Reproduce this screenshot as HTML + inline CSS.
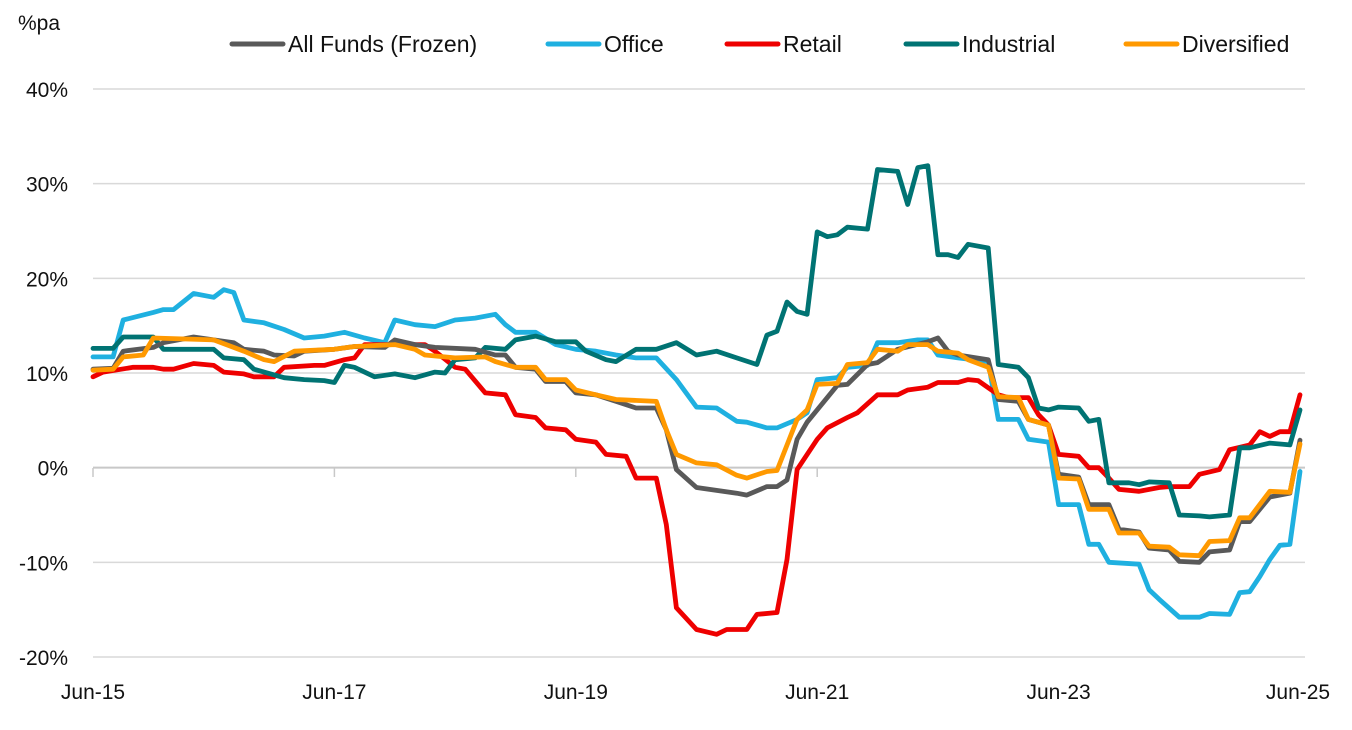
<!DOCTYPE html>
<html><head><meta charset="utf-8"><style>
body{margin:0;background:#fff;}
svg text{font-family:"Liberation Sans",Arial,sans-serif;fill:#111;}
</style></head><body>
<svg id="chart" width="1352" height="725" viewBox="0 0 1352 725" xmlns="http://www.w3.org/2000/svg">
<g id="grid"></g>
<g id="axes"></g>
<g id="series"></g>
<g id="legend"></g>
<text x="18" y="30" font-size="21">%pa</text>
</svg>
<script>
const yTicks = [40,30,20,10,0,-10,-20];
const xTickMonths = [0,24,48,72,96,120];
const xTickLabels = ["Jun-15","Jun-17","Jun-19","Jun-21","Jun-23","Jun-25"];
const seriesNames = ["All Funds (Frozen)","Office","Retail","Industrial","Diversified"];
const seriesColors = ["#595959","#1fb0e0","#ee0000","#007373","#ff9900"];

const officeM = [0,2,3,6,7,8,10,12,13,14,15,17,19,21,23,25,27,29,30,32,34,36,38,40,41,42,44,46,48,50,52,54,56,58,60,62,64,65,67,68,70,71,72,74,75,77,78,80,82,83,84,86,89,90,92,93,95,96,98,99,100,101,104,105,106,108,110,111,113,114,115,116,117,118,119,120];
const officeV = [11.7,11.7,15.6,16.4,16.7,16.7,18.4,18,18.8,18.5,15.6,15.3,14.6,13.7,13.9,14.3,13.7,13.2,15.6,15.1,14.9,15.6,15.8,16.2,15.1,14.3,14.3,13,12.5,12.3,11.9,11.6,11.6,9.3,6.4,6.3,4.9,4.8,4.2,4.2,5.1,5.8,9.3,9.5,10.6,10.8,13.2,13.2,13.5,13.5,11.9,11.6,11.2,5.1,5.1,3,2.7,-3.9,-3.9,-8.1,-8.1,-10,-10.2,-12.9,-13.9,-15.8,-15.8,-15.4,-15.5,-13.2,-13.1,-11.5,-9.7,-8.2,-8.1,-0.4];

const allM = [0,2,3,6,7,10,12,14,15,17,18,20,21,24,26,29,30,32,34,38,40,41,42,44,45,47,48,50,52,54,56,57,58,60,62,64,65,67,68,69,70,71,72,74,75,77,78,80,83,84,85,86,89,90,92,93,95,96,98,99,101,102,104,105,107,108,110,111,113,114,115,117,119,120];
const allV = [10.4,10.5,12.3,12.7,13.2,13.8,13.5,13.2,12.5,12.3,11.9,11.8,12.3,12.5,12.8,12.7,13.5,13,12.7,12.5,11.9,11.9,10.6,10.4,9.1,9.1,7.9,7.7,7,6.3,6.3,4,-0.2,-2.1,-2.4,-2.7,-2.9,-2,-2,-1.3,3,4.8,6.1,8.7,8.8,10.9,11.1,12.5,13.3,13.7,12.3,11.9,11.4,7.2,7,5.1,4.5,-0.7,-1,-3.9,-3.9,-6.5,-6.8,-8.5,-8.7,-9.9,-10,-8.9,-8.7,-5.7,-5.7,-3.1,-2.7,2.9];

const retailM = [0,1,4,6,7,8,10,12,13,15,16,18,19,22,23,25,26,27,31,33,34,36,37,39,41,42,44,45,47,48,50,51,53,54,56,57,58,60,62,63,65,66,68,69,70,72,73,75,76,78,80,81,83,84,86,87,88,90,91,93,94,95,96,98,99,100,101,102,104,106,107,109,110,112,113,115,116,117,118,119,120];
const retailV = [9.6,10.1,10.6,10.6,10.4,10.4,11,10.8,10.1,9.9,9.6,9.6,10.6,10.8,10.8,11.4,11.6,13,13,13,12.3,10.6,10.4,7.9,7.7,5.6,5.3,4.2,4,3,2.7,1.4,1.2,-1.1,-1.1,-6,-14.8,-17.1,-17.6,-17.1,-17.1,-15.5,-15.3,-9.7,-0.2,3,4.2,5.3,5.8,7.7,7.7,8.2,8.5,9,9,9.3,9.2,7.7,7.4,7.4,5.6,4.5,1.4,1.2,0,0,-1.1,-2.3,-2.5,-2.1,-2,-2,-0.7,-0.2,1.9,2.4,3.8,3.3,3.8,3.8,7.7];

const indM = [0,2,3,6,7,12,13,15,16,17,19,21,23,24,25,26,28,30,32,34,35,36,38,39,41,42,44,46,48,49,51,52,54,56,58,60,62,64,66,67,68,69,70,71,72,73,74,75,77,78,80,81,82,83,84,85,86,87,89,90,92,93,94,95,96,98,99,100,101,103,104,105,107,108,110,111,113,114,115,117,119,120];
const indV = [12.6,12.6,13.8,13.8,12.5,12.5,11.6,11.4,10.4,10.1,9.5,9.3,9.2,9,10.8,10.6,9.6,9.9,9.5,10.1,10,11.4,11.6,12.7,12.5,13.5,13.9,13.3,13.3,12.3,11.4,11.2,12.5,12.5,13.2,11.9,12.3,11.6,10.9,14,14.4,17.5,16.5,16.2,24.9,24.4,24.6,25.4,25.2,31.5,31.3,27.8,31.7,31.9,22.5,22.5,22.2,23.6,23.2,10.9,10.6,9.5,6.3,6.1,6.4,6.3,4.9,5.1,-1.6,-1.6,-1.8,-1.5,-1.6,-5,-5.1,-5.2,-5,2.1,2.1,2.6,2.4,6.1];

const divM = [0,2,3,5,6,12,15,17,18,20,24,26,30,32,33,36,39,40,42,44,45,47,48,50,52,56,57,58,60,62,64,65,67,68,70,71,72,74,75,77,78,80,81,83,84,86,87,89,90,92,93,95,96,98,99,101,102,104,105,107,108,110,111,113,114,115,117,119,120];
const divV = [10.3,10.4,11.7,11.9,13.7,13.5,12.3,11.4,11.2,12.3,12.5,12.8,13,12.5,11.9,11.6,11.7,11.2,10.6,10.6,9.3,9.3,8.2,7.7,7.2,7,4,1.4,0.5,0.3,-0.8,-1.1,-0.4,-0.3,5.1,6.1,8.8,8.9,10.9,11.1,12.5,12.3,13,13,12.3,12.1,11.4,10.6,7.5,7.4,5.1,4.5,-1.1,-1.2,-4.4,-4.4,-6.9,-6.9,-8.3,-8.4,-9.2,-9.3,-7.8,-7.7,-5.3,-5.3,-2.5,-2.6,2.5];

const NS="http://www.w3.org/2000/svg";
const X0=93,X1=1300,Y40=89,Ym20=657;
function xs(m){return X0+(X1-X0)*m/120;}
function ys(v){return Y40+(40-v)*(Ym20-Y40)/60;}
function mk(tag,attrs,parent){const e=document.createElementNS(NS,tag);for(const k in attrs)e.setAttribute(k,attrs[k]);parent.appendChild(e);return e;}
const grid=document.getElementById('grid'),axes=document.getElementById('axes'),ser=document.getElementById('series'),leg=document.getElementById('legend');
yTicks.forEach(v=>{
  const l=mk('line',{x1:93,x2:1305,y1:ys(v),y2:ys(v),stroke:v===0?'#c8c8c8':'#d9d9d9','stroke-width':v===0?2:1.5},grid);
  
  
  const t=mk('text',{x:68,y:ys(v)+8,'font-size':21,'text-anchor':'end'},axes);
  t.textContent=v+'%';
  
  
});
xTickMonths.forEach((m,i)=>{
  const l=mk('line',{x1:xs(m),x2:xs(m),y1:468,y2:477,stroke:'#c8c8c8','stroke-width':1.5},axes);
  
  
  const t=mk('text',{x:xs(m)+(i===5?-2:0),y:699,'font-size':21,'text-anchor':'middle'},axes);
  t.textContent=xTickLabels[i];
  
  
});
const data=[[allM,allV],[officeM,officeV],[retailM,retailV],[indM,indV],[divM,divV]];
const order=[1,2,3,0,4];
order.forEach(i=>{
  const [M,V]=data[i];
  const d=M.map((m,j)=>(j?'L':'M')+xs(m).toFixed(1)+','+ys(V[j]).toFixed(1)).join(' ');
  const p=mk('path',{d:d,fill:'none',stroke:seriesColors[i],'stroke-width':4.8,'stroke-linejoin':'round','stroke-linecap':'round'},ser);
  
  
});
const legX=[232,548,727,906,1126];
seriesNames.forEach((n,i)=>{
  const l=mk('line',{x1:legX[i],x2:legX[i]+51,y1:44,y2:44,stroke:seriesColors[i],'stroke-width':5,'stroke-linecap':'round'},leg);
  
  
  const t=mk('text',{x:legX[i]+56,y:52,'font-size':23},leg);
  t.textContent=n;
  
  
});
</script>
</body></html>
